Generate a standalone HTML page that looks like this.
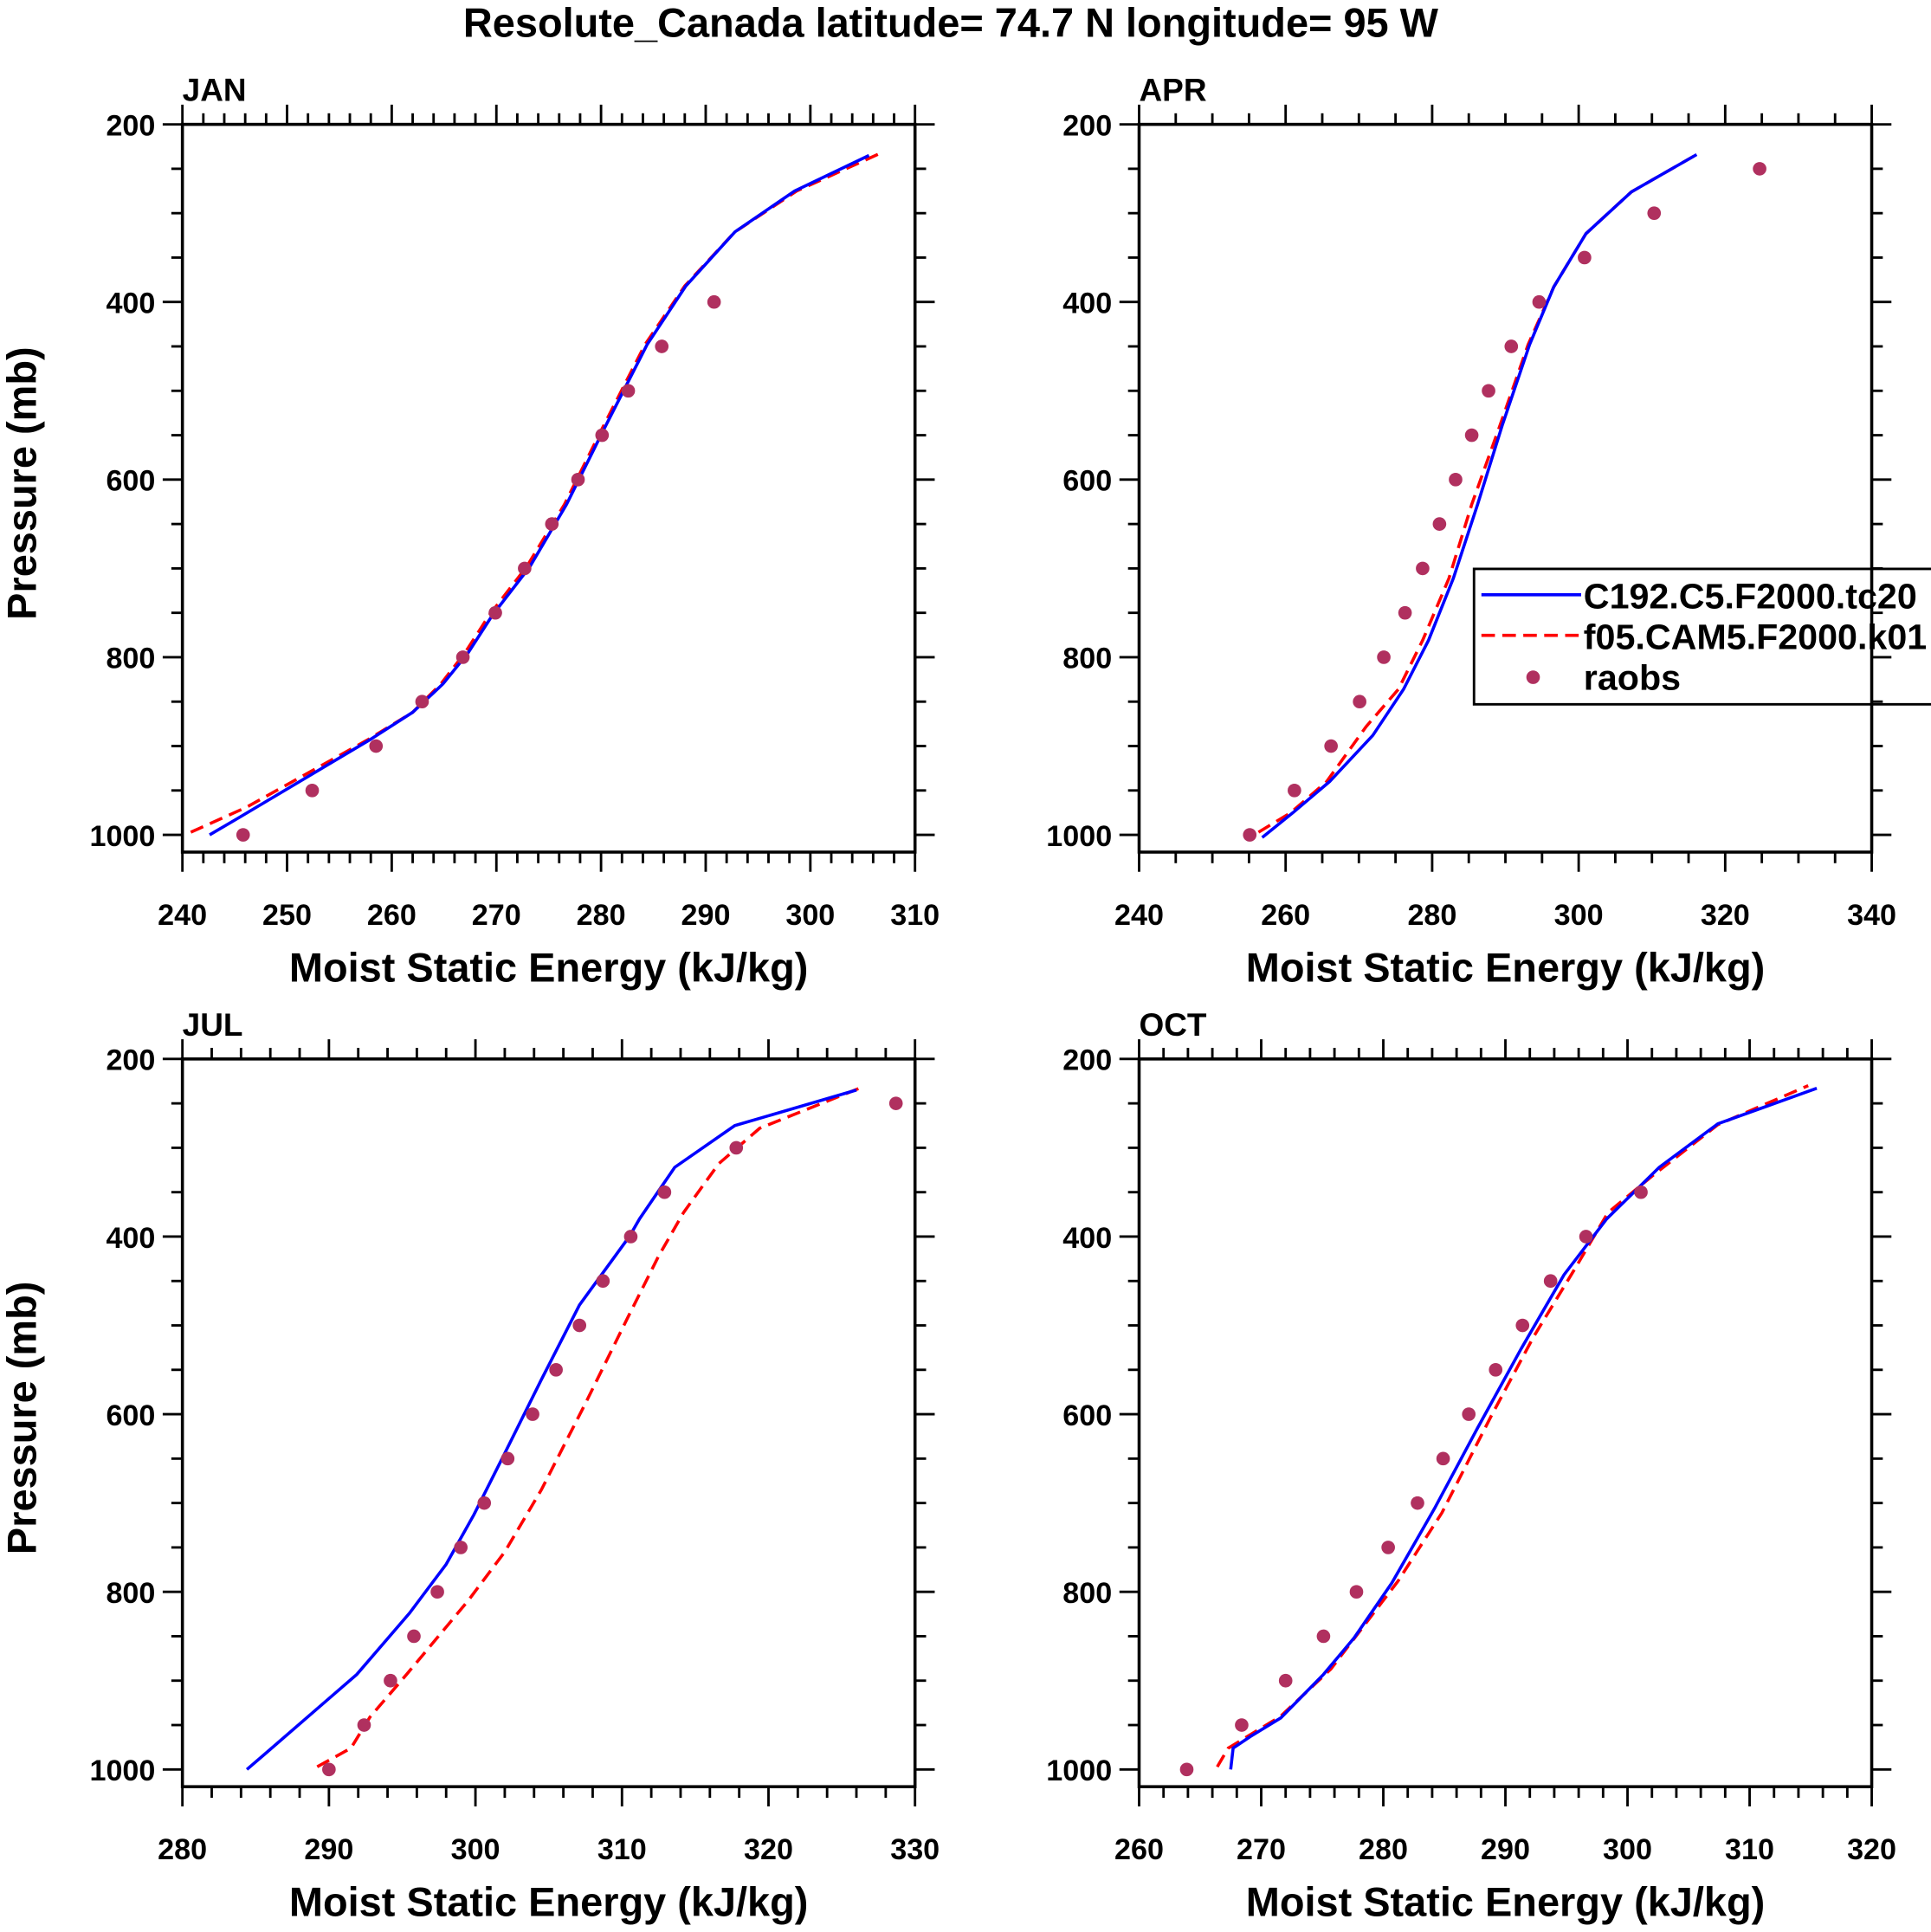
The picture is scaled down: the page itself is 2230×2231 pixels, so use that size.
<!DOCTYPE html>
<html><head><meta charset="utf-8"><style>
html,body{margin:0;padding:0;background:#fff;overflow:hidden}
svg{display:block;font-family:"Liberation Sans",Arial,sans-serif;font-weight:bold}
</style></head><body>
<svg id="s" width="2230" height="2231" viewBox="0 0 1568 1569" xmlns="http://www.w3.org/2000/svg">
<text x="772" y="30" font-size="33" text-anchor="middle">Resolute_Canada  latitude= 74.7 N longitude= 95 W</text>
</svg>
<script>
const janRaobP=[1000,950,900,850,800,750,700,650,600,550,500,450,400];
const janRaobX=[245.8,252.4,258.5,262.9,266.8,269.9,272.7,275.3,277.8,280.1,282.6,285.8,290.8];
const janBlueP=[1000,982,893,862,830,795,753,698,628,545,448,382,321,275,235];
const janBlueX=[242.6,245.2,257.9,262,264.9,267.3,269.6,273.2,276.7,280.2,284.4,288.1,292.8,298.5,305.6];
const janRedP=[997,969,893,862,830,795,753,698,628,545,448,382,321,275,233];
const janRedX=[240.8,246.1,257.7,262,264.7,267,269.3,272.9,276.5,280,284.2,288,292.8,298.7,306.6];

const aprRaobP=[1000,950,900,850,800,750,700,650,600,550,500,450,400,350,300,250];
const aprRaobX=[255.1,261.2,266.2,270.1,273.4,276.3,278.7,281,283.2,285.4,287.7,290.8,294.6,300.8,310.3,324.7];
const aprBlueP=[1003,975,940,888,836,781,711,628,538,448,383,323,276,234];
const aprBlueX=[256.8,261,266,271.9,276.1,279.5,282.9,286.2,289.6,293.3,296.6,301,307.2,316.1];
const aprRedP=[997,975,940,878,836,781,711,628,538,448,383,323,276,234];
const aprRedX=[256.3,260.7,265.6,271,275.4,278.7,282.3,285.4,289.3,293.1,296.6,301,307.2,316.1];

const julRaobP=[1000,950,900,850,800,750,700,650,600,550,500,450,400,350,300,250];
const julRaobX=[290,292.4,294.2,295.8,297.4,299,300.6,302.2,303.9,305.5,307.1,308.7,310.6,312.9,317.8,328.7];
const julBlueP=[1000,983,893,824,769,713,644,561,477,400,380,322,275,235];
const julBlueX=[284.4,285.6,291.9,295.5,298,299.9,302,304.5,307.1,310.5,311.2,313.6,317.7,326];
const julRedP=[997,976,941,893,810,755,685,588,491,422,373,318,278,233];
const julRedX=[289.2,291.5,292.8,295.3,299.5,302,304.5,307.5,310.4,312.5,314.2,316.6,319.4,326.2];

const octRaobP=[1000,950,900,850,800,750,700,650,600,550,500,450,400,350];
const octRaobX=[263.9,268.4,272,275.1,277.8,280.4,282.8,284.9,287,289.2,291.4,293.7,296.6,301.1];
const octBlueP=[1000,976,963,942,893,852,790,706,616,526,443,380,322,273,233];
const octBlueX=[267.5,267.7,269.1,271.6,275.1,277.6,280.7,284.2,287.7,291.3,294.8,298.3,302.6,307.4,315.5];
const octRedP=[997,976,940,887,788,711,603,513,436,373,332,274,230];
const octRedX=[266.4,267.3,271.6,275.7,281.2,284.8,288.8,292.3,295.7,298.4,302,307.4,314.8];

const yTicks=[200,400,600,800,1000];
const janXTicks=[240,250,260,270,280,290,300,310];
const aprXTicks=[240,260,280,300,320,340];
const julXTicks=[280,290,300,310,320,330];
const octXTicks=[260,270,280,290,300,310,320];

const NS="http://www.w3.org/2000/svg";
const svg=document.getElementById('s');
function mk(tag,attrs,parent){const e=document.createElementNS(NS,tag);for(const k in attrs)e.setAttribute(k,attrs[k]);(parent||svg).appendChild(e);return e;}

function panel(o){
  const g=mk('g',{});
  
  
  const L=o.x0,R=o.x0+595,T=o.y0,B=o.y0+591;
  const xs=v=>L+(v-o.xmin)/(o.xmax-o.xmin)*595;
  const ys=p=>T+(p-200)/800*577;
  const tk=mk('g',{stroke:'#000','stroke-width':2},g);
  
  
  for(let p=200;p<=1000;p+=50){const maj=p%200===0;const l=maj?16:9;
    mk('line',{x1:L-l,x2:L,y1:ys(p),y2:ys(p)},tk);mk('line',{x1:R,x2:R+l,y1:ys(p),y2:ys(p)},tk);}
  const step=o.minor;
  for(let v=o.xmin;v<=o.xmax+1e-6;v+=step){const maj=Math.abs(v/o.major-Math.round(v/o.major))<1e-6;const l=maj?16:9;
    mk('line',{x1:xs(v),x2:xs(v),y1:B,y2:B+l},tk);mk('line',{x1:xs(v),x2:xs(v),y1:T-l,y2:T},tk);}
  yTicks.forEach(p=>{const t=mk('text',{x:L-22,y:ys(p)+9,'font-size':24,'text-anchor':'end'},g);t.textContent=p;
    
    });
  o.xt.forEach(v=>{const t=mk('text',{x:xs(v),y:B+59,'font-size':24,'text-anchor':'middle'},g);t.textContent=v;
    
    });
  const ti=mk('text',{x:L,y:T-19,'font-size':26},g);ti.textContent=o.label;
  
  
  const xt=mk('text',{x:(L+R)/2,y:B+105,'font-size':33,'text-anchor':'middle'},g);xt.textContent='Moist Static Energy (kJ/kg)';
  
  
  if(o.ytitle){const yt=mk('text',{x:0,y:0,'font-size':33,'text-anchor':'middle',transform:`translate(${L-119},${(T+B)/2-4}) rotate(-90)`},g);yt.textContent='Pressure (mb)';
    
    }
  const red=mk('polyline',{points:o.rx.map((v,i)=>xs(v)+','+ys(o.rp[i])).join(' '),fill:'none',stroke:'#f00','stroke-width':2.5,'stroke-dasharray':'11,6'},g);
  
  
  const blue=mk('polyline',{points:o.bx.map((v,i)=>xs(v)+','+ys(o.bp[i])).join(' '),fill:'none',stroke:'#00f','stroke-width':2.5},g);
  
  
  o.ox.forEach((v,i)=>{const c=mk('circle',{cx:xs(v),cy:ys(o.op[i]),r:5.5,fill:'#b0305f'},g);
    
    });
  const box=mk('rect',{x:L,y:T,width:595,height:591,fill:'none',stroke:'#000','stroke-width':2.5},g);
  
  
}
panel({name:'jan',label:'JAN',x0:148,y0:101,xmin:240,xmax:310,major:10,minor:2,xt:janXTicks,ytitle:true,bx:janBlueX,bp:janBlueP,rx:janRedX,rp:janRedP,ox:janRaobX,op:janRaobP});
panel({name:'apr',label:'APR',x0:925,y0:101,xmin:240,xmax:340,major:20,minor:5,xt:aprXTicks,ytitle:false,bx:aprBlueX,bp:aprBlueP,rx:aprRedX,rp:aprRedP,ox:aprRaobX,op:aprRaobP});
panel({name:'jul',label:'JUL',x0:148,y0:860,xmin:280,xmax:330,major:10,minor:2,xt:julXTicks,ytitle:true,bx:julBlueX,bp:julBlueP,rx:julRedX,rp:julRedP,ox:julRaobX,op:julRaobP});
panel({name:'oct',label:'OCT',x0:925,y0:860,xmin:260,xmax:320,major:10,minor:2,xt:octXTicks,ytitle:false,bx:octBlueX,bp:octBlueP,rx:octRedX,rp:octRedP,ox:octRaobX,op:octRaobP});

const lg=mk('g',{});


mk('polyline',{points:'1620,462 1197,462 1197,572 1620,572',fill:'none',stroke:'#000','stroke-width':2},lg);
mk('line',{x1:1203,x2:1284,y1:483,y2:483,stroke:'#00f','stroke-width':2.5},lg);
mk('line',{x1:1203,x2:1284,y1:516,y2:516,stroke:'#f00','stroke-width':2.5,'stroke-dasharray':'11,6'},lg);
mk('circle',{cx:1245,cy:550,r:5.5,fill:'#b0305f'},lg);
[['C192.C5.F2000.tc20',494],['f05.CAM5.F2000.k01',527],['raobs',560]].forEach(a=>{const t=mk('text',{x:1286,y:a[1],'font-size':29},lg);t.textContent=a[0];
  
  });
</script>
</body></html>
